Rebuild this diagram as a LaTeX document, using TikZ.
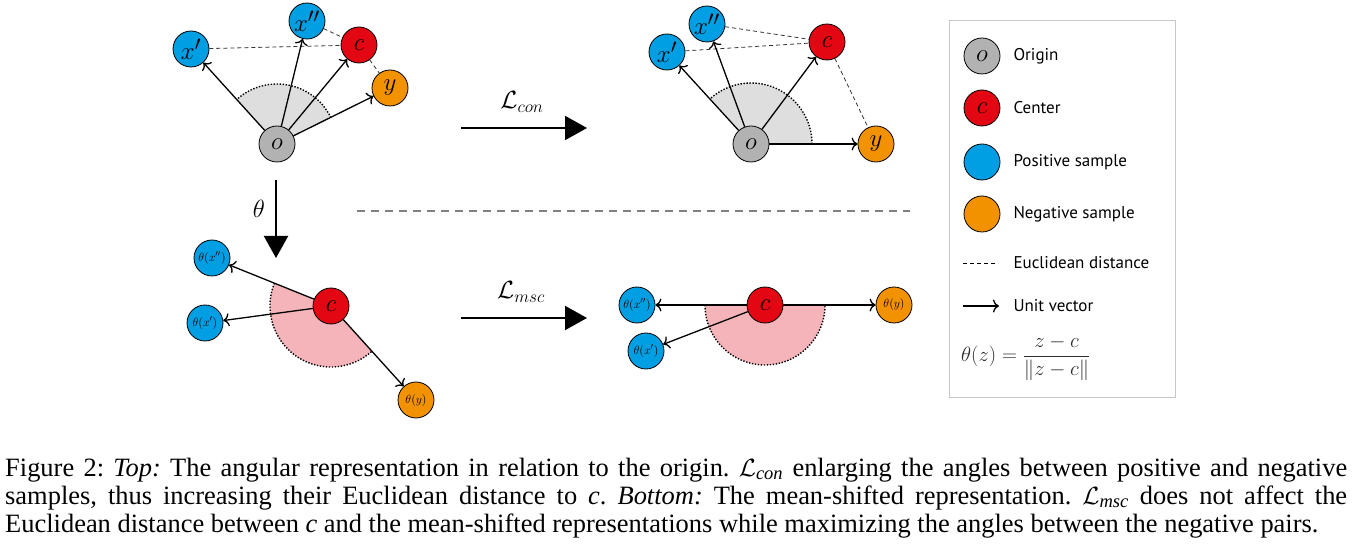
\documentclass[tikz,border=0pt]{standalone}
\usepackage{amsmath}
\usepackage{fontspec}
\setmainfont{Liberation Serif}
\newfontfamily\legendfont{PT Sans}
\usetikzlibrary{arrows.meta}
\definecolor{posblue}{HTML}{009FE3}
\definecolor{negorange}{HTML}{F39200}
\definecolor{cred}{HTML}{E30613}
\definecolor{ogray}{HTML}{B2B2B2}
\definecolor{sectgray}{HTML}{DEDEDE}
\definecolor{sectpink}{HTML}{F4B4B9}
\begin{document}
\begin{tikzpicture}[x=1pt,y=-1pt,
  pt/.style={circle, draw=black, line width=0.8pt, minimum size=36pt, inner sep=0pt, font=\fontsize{30}{30}\selectfont},
  sm/.style={pt, font=\fontsize{13}{13}\selectfont},
  orign/.style={fill=ogray},
  cent/.style={fill=cred},
  posn/.style={fill=posblue},
  negn/.style={fill=negorange},
  vec/.style={line width=1.3pt, -{To[length=6pt,width=13pt]}},
  euc/.style={line width=0.8pt, black!80, dash pattern=on 4pt off 3pt},
  dotarc/.style={line width=1.4pt, dash pattern=on 1.4pt off 1.6pt},
  bigarrow/.style={line width=2pt, -{Triangle[length=22pt,width=24pt]}},
  leg/.style={anchor=west, font=\legendfont\fontsize{17}{17}\selectfont},
  lossl/.style={font=\fontsize{25}{25}\selectfont}
]
\useasboundingbox (0,0) rectangle (1353,545);

% ---------- sectors (background) ----------
\coordinate (oc1) at (277,144);
\coordinate (oc2) at (751,144);
\coordinate (cc3) at (331,306);
\coordinate (cc4) at (765,305);
\fill[sectgray] (oc1) -- ++(-26:60) arc[start angle=-26, end angle=-132, radius=60] -- cycle;
\draw[dotarc] (oc1) ++(-26:60) arc[start angle=-26, end angle=-132, radius=60];
\fill[sectgray] (oc2) -- ++(0:61) arc[start angle=0, end angle=-132, radius=61] -- cycle;
\draw[dotarc] (oc2) ++(0:61) arc[start angle=0, end angle=-132, radius=61];
\fill[sectpink] (cc3) -- ++(-158:61) arc[start angle=-158, end angle=-312, radius=61] -- cycle;
\draw[dotarc] (cc3) ++(-158:61) arc[start angle=-158, end angle=-312, radius=61];
\fill[sectpink] (cc4) -- ++(-180:60) arc[start angle=-180, end angle=-360, radius=60] -- cycle;
\draw[dotarc] (cc4) ++(-180:60) arc[start angle=-180, end angle=-360, radius=60];

% ---------- top left ----------
\node[pt,orign] (o1) at (oc1) {$o$};
\node[pt,posn] (xa1) at (191,49) {$x'$};
\node[pt,posn] (xb1) at (307,21) {$x''$};
\node[pt,cent] (c1) at (359,45) {$c$};
\node[pt,negn] (y1) at (390,88) {$y$};
\draw[euc] (xa1) -- (c1);
\draw[euc] (xb1) -- (c1);
\draw[euc] (c1) -- (y1);
\draw[vec] (o1) -- (xa1);
\draw[vec] (o1) -- (xb1);
\draw[vec] (o1) -- (c1);
\draw[vec] (o1) -- (y1);

% ---------- top right ----------
\node[pt,orign] (o2) at (oc2) {$o$};
\node[pt,posn] (xa2) at (667,52) {$x'$};
\node[pt,posn] (xb2) at (707,24) {$x''$};
\node[pt,cent] (c2) at (827,42) {$c$};
\node[pt,negn] (y2) at (876,144) {$y$};
\draw[euc] (xa2) -- (c2);
\draw[euc] (xb2) -- (c2);
\draw[euc] (c2) -- (y2);
\draw[vec] (o2) -- (xa2);
\draw[vec] (o2) -- (xb2);
\draw[vec] (o2) -- (c2);
\draw[vec] (o2) -- (y2);

% ---------- bottom left ----------
\node[pt,cent] (c3) at (cc3) {$c$};
\node[sm,posn] (xb3) at (212,258) {$\theta(x'')$};
\node[sm,posn] (xa3) at (205,323) {$\theta(x')$};
\node[sm,negn] (y3) at (416,400) {$\theta(y)$};
\draw[vec] (c3) -- (xb3);
\draw[vec] (c3) -- (xa3);
\draw[vec] (c3) -- (y3);

% ---------- bottom right ----------
\node[pt,cent] (c4) at (cc4) {$c$};
\node[sm,posn] (xb4) at (637,305) {$\theta(x'')$};
\node[sm,posn] (xa4) at (646,351) {$\theta(x')$};
\node[sm,negn] (y4) at (894,305) {$\theta(y)$};
\draw[vec] (c4) -- (xb4);
\draw[vec] (c4) -- (xa4);
\draw[vec] (c4) -- (y4);

% ---------- transitions ----------
\coordinate (lc1) at (461,128);
\coordinate (lc2) at (587,128);
\draw[bigarrow] (lc1) -- (lc2);
\node[lossl] (lcon) at (522,102) {$\mathcal{L}_{con}$};
\coordinate (lm1) at (461,318);
\coordinate (lm2) at (587,318);
\draw[bigarrow] (lm1) -- (lm2);
\node[lossl] (lmsc) at (521,292) {$\mathcal{L}_{msc}$};
\coordinate (th1) at (276,180);
\coordinate (th2) at (276,258);
\draw[bigarrow] (th1) -- (th2);
\node[font=\fontsize{24}{24}\selectfont] (thl) at (259,209) {$\theta$};
\coordinate (sep1) at (357,211);
\coordinate (sep2) at (910,211);
\draw[line width=2pt, black!50, dash pattern=on 8pt off 6pt] (sep1) -- (sep2);

% ---------- legend ----------
\node[draw=black!22, line width=0.8pt, minimum width=226pt, minimum height=377pt, anchor=north west, inner sep=0pt] (legbox) at (949,20) {};
\node[pt,orign] (lo) at (982,56) {$o$};
\node[leg] (lol) at (1010,56) {Origin};
\node[pt,cent] (lc) at (982,108) {$c$};
\node[leg] (lcl) at (1010,108) {Center};
\node[pt,posn] (lp) at (982,162) {};
\node[leg] (lpl) at (1010,162) {Positive sample};
\node[pt,negn] (ln) at (982,214) {};
\node[leg] (lnl) at (1010,214) {Negative sample};
\coordinate (le1) at (963,263);
\coordinate (le2) at (998,263);
\draw[euc, black] (le1) -- (le2);
\node[leg] (lel) at (1010,263) {Euclidean distance};
\coordinate (lu1) at (963,306);
\coordinate (lu2) at (999,306);
\draw[vec] (lu1) -- (lu2);
\node[leg] (lul) at (1010,306) {Unit vector};
\node[anchor=west, inner sep=0pt, text=black!82, font=\fontsize{21}{21}\selectfont] (form) at (961,358) {$\displaystyle\theta(z)=\frac{z-c}{\lVert z-c\rVert}$};

% ---------- caption ----------
\node[anchor=base west, inner sep=0pt, font=\fontsize{26.45}{28}\selectfont] (cap) at (5,476) {\parbox[t]{1342pt}{\frenchspacing Figure 2: \textit{Top:} The angular representation in relation to the origin. $\mathcal{L}_{\textit{con}}$ enlarging the angles between positive and negative\linebreak samples, thus increasing their Euclidean distance to \textit{c}. \textit{Bottom:} The mean-shifted representation. $\mathcal{L}_{\textit{msc}}$ does not affect the\linebreak Euclidean distance between \textit{c} and the mean-shifted representations while maximizing the angles between the negative pairs.}};
\end{tikzpicture}
\end{document}
